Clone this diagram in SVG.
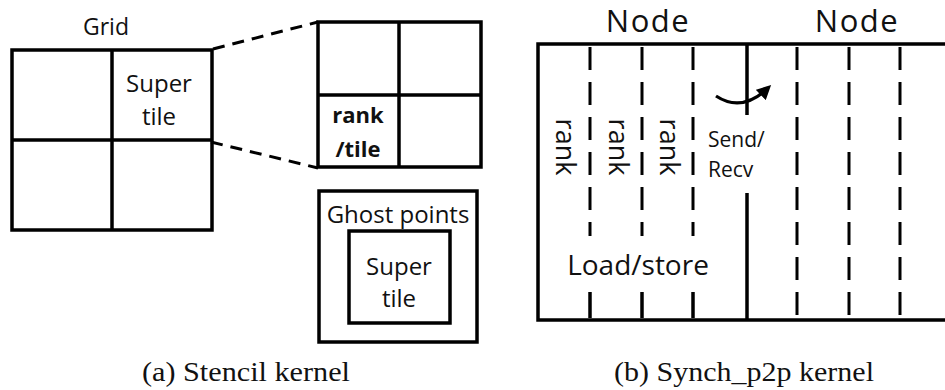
<svg xmlns="http://www.w3.org/2000/svg" width="945" height="390" viewBox="0 0 945 390">
  <style>
    .box { fill: none; stroke: #000; stroke-width: 3.5; }
    .ln { fill: none; stroke: #000; stroke-width: 3.5; }
    .dash { fill: none; stroke: #000; stroke-width: 3; stroke-dasharray: 23 12; }
    .zoomline { fill: none; stroke: #000; stroke-width: 3; stroke-dasharray: 12 8; }
    .lbl { font-family: "Open Sans", "Noto Sans", sans-serif; fill: #111; }
    .cap { font-family: "Liberation Serif", "DejaVu Serif", serif; fill: #111; font-size: 28px; }
  </style>
  <defs>
    <marker id="arrowHead" viewBox="0 0 10 10" refX="7" refY="5" markerWidth="4.5" markerHeight="4.5" orient="auto" markerUnits="strokeWidth">
      <path d="M0,0 L10,5 L0,10 Z" fill="#000"/>
    </marker>
  </defs>

  <!-- (a) Stencil kernel -->
  <g id="grid">
    <text class="lbl" x="106" y="35" font-size="23" text-anchor="middle">Grid</text>
    <rect class="box" x="12" y="50" width="200" height="180"/>
    <line class="ln" x1="112" y1="50" x2="112" y2="230"/>
    <line class="ln" x1="12" y1="140" x2="212" y2="140"/>
    <text class="lbl" x="159" y="92" font-size="24" text-anchor="middle">Super</text>
    <text class="lbl" x="159" y="125" font-size="24" text-anchor="middle">tile</text>
  </g>

  <g id="supertile-zoom">
    <rect class="box" x="318" y="22" width="163" height="145"/>
    <line class="ln" x1="399" y1="22" x2="399" y2="167"/>
    <line class="ln" x1="318" y1="95" x2="481" y2="95"/>
    <text class="lbl" x="358" y="123" font-size="22" font-weight="bold" text-anchor="middle">rank</text>
    <text class="lbl" x="358" y="157" font-size="22" font-weight="bold" text-anchor="middle">/tile</text>
  </g>

  <g id="ghost-points">
    <rect class="box" x="319" y="191" width="158" height="151"/>
    <text class="lbl" x="398" y="223" font-size="24" text-anchor="middle">Ghost points</text>
    <rect class="box" x="349" y="231" width="101" height="92"/>
    <text class="lbl" x="399" y="275" font-size="24" text-anchor="middle">Super</text>
    <text class="lbl" x="399" y="307" font-size="24" text-anchor="middle">tile</text>
  </g>

  <g id="connectors">
    <line class="zoomline" x1="213" y1="49" x2="318" y2="22"/>
    <line class="zoomline" x1="211" y1="142" x2="318" y2="168"/>
  </g>

  <!-- (b) Synch_p2p kernel -->
  <g id="nodes">
    <text class="lbl" x="648" y="32" font-size="31" letter-spacing="1.5" text-anchor="middle">Node</text>
    <text class="lbl" x="857" y="32" font-size="31" letter-spacing="1.5" text-anchor="middle">Node</text>
    <path class="ln" d="M948,44 H538 V320 H948" stroke-width="4"/>
    <line class="ln" x1="747" y1="44" x2="747" y2="115"/>
    <line class="ln" x1="747" y1="193" x2="747" y2="320"/>
  </g>

  <g id="ranks">
    <line class="dash" x1="590" y1="47" x2="590" y2="236"/>
    <line class="dash" x1="642" y1="47" x2="642" y2="236"/>
    <line class="dash" x1="693" y1="47" x2="693" y2="236"/>
    <line class="ln" x1="590" y1="292" x2="590" y2="318" stroke-width="3"/>
    <line class="ln" x1="642" y1="292" x2="642" y2="318" stroke-width="3"/>
    <line class="ln" x1="693" y1="292" x2="693" y2="318" stroke-width="3"/>
    <line class="dash" x1="797" y1="47" x2="797" y2="318"/>
    <line class="dash" x1="849" y1="47" x2="849" y2="318"/>
    <line class="dash" x1="900" y1="47" x2="900" y2="318"/>
    <text class="lbl" font-size="27" text-anchor="middle" transform="translate(556,147) rotate(90)">rank</text>
    <text class="lbl" font-size="27" text-anchor="middle" transform="translate(609,147) rotate(90)">rank</text>
    <text class="lbl" font-size="27" text-anchor="middle" transform="translate(660,147) rotate(90)">rank</text>
    <text class="lbl" x="638" y="275" font-size="28" text-anchor="middle">Load/store</text>
  </g>

  <g id="send-recv">
    <path d="M716,96 Q742,113 768,88" fill="none" stroke="#000" stroke-width="3.2" marker-end="url(#arrowHead)"/>
    <text class="lbl" x="708" y="147" font-size="21">Send/</text>
    <text class="lbl" x="708" y="177" font-size="21">Recv</text>
  </g>

  <g id="captions">
    <text class="cap" x="142" y="381" textLength="208" lengthAdjust="spacingAndGlyphs">(a) Stencil kernel</text>
    <text class="cap" x="614" y="381" textLength="260" lengthAdjust="spacingAndGlyphs">(b) Synch_p2p kernel</text>
  </g>
</svg>
